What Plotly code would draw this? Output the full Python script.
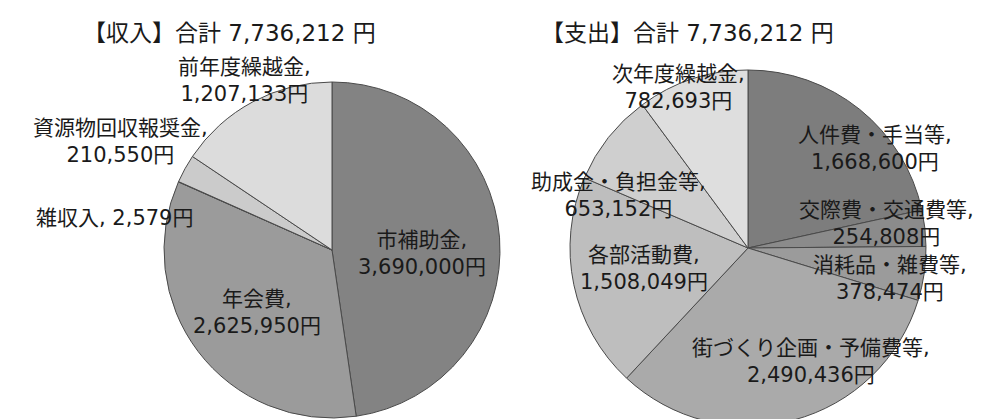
import plotly.graph_objects as go

W, H = 984, 419

# ---------------- data ----------------
income_labels = ["市補助金", "年会費", "雑収入", "資源物回収報奨金", "前年度繰越金"]
income_values = [3690000, 2625950, 2579, 210550, 1207133]
income_title = "【収入】合計 7,736,212 円"

expense_labels = ["人件費・手当等", "交際費・交通費等", "消耗品・雑費等",
                  "街づくり企画・予備費等", "各部活動費", "助成金・負担金等", "次年度繰越金"]
expense_values = [1668600, 254808, 378474, 2490436, 1508049, 653152, 782693]
expense_title = "【支出】合計 7,736,212 円"

# ---------------- styles ----------------
income_colors = ["#838383", "#9b9b9b", "#8a8a8a", "#cbcbcb", "#dcdcdc"]
expense_colors = ["#7d7d7d", "#8b8b8b", "#9b9b9b", "#aaaaaa", "#bebebe", "#cfcfcf", "#dedede"]
line_color = "#4a4a4a"

FONT = "DejaVu Sans, Noto Sans CJK JP, sans-serif"
TXT = "#1a1a1a"

# label centres in pixels (x, y from top) and separators
income_label_pos = [(414, 245), (249, 304), (106, 210), (112, 133), (236, 72)]
income_sep = ["<br>", "<br>", " ", "<br>", "<br>"]
expense_label_pos = [(867, 140), (878, 215), (882, 270), (803, 353),
                     (636, 260), (610, 187), (670, 80)]
expense_sep = ["<br>"] * 7
title_pos = [(221, 25), (679, 25)]


def px_domain(cx, cy, r_x, top, bottom):
    return dict(x=[(cx - r_x) / W, (cx + r_x) / W],
                y=[(H - bottom) / H, (H - top) / H])


fig = go.Figure()
fig.add_trace(go.Pie(
    labels=income_labels, values=income_values, sort=False,
    direction="clockwise", rotation=0,
    marker=dict(colors=income_colors, line=dict(color=line_color, width=1)),
    textinfo="none", hoverinfo="label+value", showlegend=False,
    domain=px_domain(324, 242, 168, 74, 410),
))
fig.add_trace(go.Pie(
    labels=expense_labels, values=expense_values, sort=False,
    direction="clockwise", rotation=0,
    marker=dict(colors=expense_colors, line=dict(color=line_color, width=1)),
    textinfo="none", hoverinfo="label+value", showlegend=False,
    domain=px_domain(740, 240, 180, 62, 418),
))

annotations = []


def add_label(text, x, y, size=21):
    annotations.append(dict(
        text=text, x=x / W, y=1 - y / H, xref="paper", yref="paper",
        xanchor="center", yanchor="middle", showarrow=False, align="center",
        font=dict(family=FONT, size=size, color=TXT)))


for name, val, (x, y), sep in zip(income_labels, income_values, income_label_pos, income_sep):
    add_label(f"{name},{sep}{val:,}円", x, y)
for name, val, (x, y), sep in zip(expense_labels, expense_values, expense_label_pos, expense_sep):
    add_label(f"{name},{sep}{val:,}円", x, y)

add_label(income_title, *title_pos[0], size=23)
add_label(expense_title, *title_pos[1], size=23)

fig.update_layout(
    width=W, height=H,
    margin=dict(l=0, r=0, t=0, b=0),
    paper_bgcolor="white", plot_bgcolor="white",
    annotations=annotations,
)

fig.write_html("out.html")
